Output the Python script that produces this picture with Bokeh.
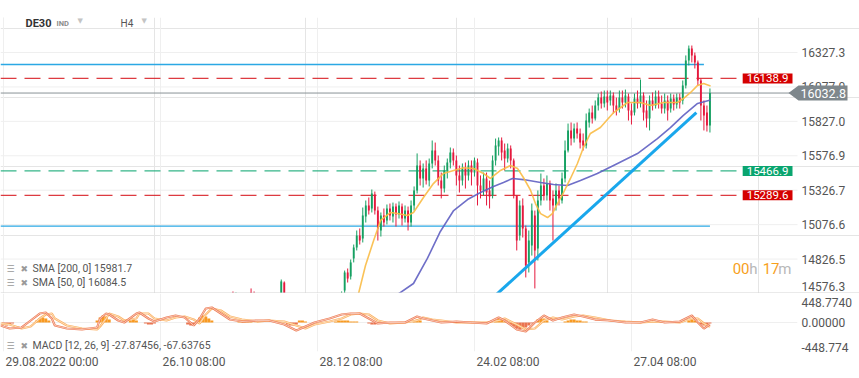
from bokeh.plotting import figure
from bokeh.layouts import column
from bokeh.models import Range1d, FixedTicker, Label, Span, ColumnDataSource, Grid, PolyAnnotation
from bokeh.embed import file_html
from bokeh.resources import INLINE

# ---------------- data ----------------
tick_bars = [0, 52, 104, 156, 208]
tick_labels = ["29.08.2022  00:00", "26.10  08:00", "28.12  08:00", "24.02  08:00", "27.04  08:00"]
price_ticks = [14576.3, 14826.5, 15076.6, 15326.7, 15576.9, 15827.0, 16077.0, 16327.3]
macd_ticks = [-448.774, 0.0, 448.774]
macd_tick_labels = ["-448.774", "0.00000", "448.7740"]

candle_bar = [76, 77, 82, 83, 92, 93, 112] + list(range(113, 235))
opens = [14554, 14533, 14584, 14569, 14554, 14656, 14540,
         14598, 14729, 14700, 14831, 14911, 14998, 14976, 15136, 15216, 15194,
         15296, 15179, 15034, 15143, 15107, 15194, 15136, 15208, 15150, 15208,
         15121, 15179, 15092, 15216, 15325, 15506, 15412, 15485, 15397, 15521,
         15615, 15543, 15397, 15339, 15470, 15528, 15601, 15543, 15434, 15397,
         15485, 15434, 15506, 15455, 15528, 15361, 15325, 15412, 15325, 15288,
         15543, 15644, 15688, 15615, 15557, 15630, 15543, 15288, 14998, 15216,
         15049, 14802, 14925, 15143, 14903, 15252, 15361, 15288, 15376, 15267,
         15216, 15325, 15252, 15412, 15615, 15761, 15702, 15775, 15739, 15688,
         15652, 15819, 15891, 15848, 15942, 16000, 15957, 16008, 15979, 16015,
         15942, 15920, 16000, 15964, 16008, 15906, 15891, 15993, 15957, 16015,
         15906, 15848, 15979, 15942, 16008, 15957, 15920, 15979, 15920, 15993,
         15950, 16000, 15979, 16088, 16269, 16356, 16306, 16255, 16124, 15942,
         15891, 15797]
highs = [14591, 14584, 14613, 14591, 14678, 14664, 14591,
         14743, 14758, 14823, 14932, 15034, 15049, 15201, 15252, 15274, 15332,
         15317, 15208, 15165, 15194, 15223, 15230, 15237, 15230, 15245, 15230,
         15216, 15208, 15252, 15354, 15594, 15543, 15521, 15543, 15557, 15688,
         15673, 15579, 15455, 15506, 15557, 15637, 15630, 15579, 15506, 15521,
         15528, 15543, 15543, 15564, 15557, 15434, 15455, 15455, 15397, 15579,
         15702, 15710, 15710, 15666, 15666, 15652, 15557, 15288, 15252, 15267,
         15070, 15034, 15230, 15179, 15325, 15448, 15412, 15434, 15397, 15325,
         15376, 15361, 15455, 15688, 15811, 15819, 15811, 15819, 15775, 15739,
         15884, 15920, 15942, 15979, 16029, 16044, 16051, 16051, 16051, 16037,
         16000, 16051, 16051, 16058, 16029, 15957, 16029, 16051, 16131, 16037,
         15979, 16015, 16037, 16051, 16051, 16015, 16029, 16015, 16029, 16022,
         16029, 16029, 16124, 16306, 16378, 16378, 16327, 16269, 16138, 15979,
         15942, 16066]
lows = [14511, 14504, 14525, 14511, 14525, 14547, 14525,
        14576, 14656, 14678, 14802, 14889, 14932, 14947, 15092, 15150, 15165,
        15150, 14961, 14990, 15063, 15078, 15107, 15092, 15063, 15121, 15070,
        15092, 15034, 15063, 15179, 15303, 15361, 15346, 15368, 15354, 15485,
        15506, 15361, 15267, 15310, 15412, 15485, 15506, 15361, 15310, 15361,
        15339, 15397, 15361, 15426, 15216, 15267, 15288, 15216, 15194, 15267,
        15506, 15579, 15543, 15470, 15528, 15485, 15267, 14889, 14961, 14983,
        14693, 14729, 14852, 14613, 14816, 15216, 15252, 15252, 15179, 14961,
        15179, 15216, 15230, 15383, 15601, 15652, 15673, 15702, 15630, 15615,
        15630, 15782, 15811, 15833, 15906, 15920, 15928, 15906, 15942, 15884,
        15870, 15891, 15920, 15928, 15833, 15804, 15870, 15920, 15928, 15833,
        15782, 15761, 15906, 15920, 15920, 15884, 15884, 15833, 15891, 15906,
        15920, 15920, 15950, 16066, 16233, 16255, 16211, 16088, 15833, 15761,
        15753, 15746]
closes = [14533, 14562, 14547, 14540, 14664, 14576, 14576,
          14729, 14685, 14802, 14911, 14998, 14961, 15143, 15216, 15179, 15303,
          15179, 15049, 15143, 15092, 15194, 15143, 15208, 15150, 15216, 15121,
          15179, 15092, 15216, 15325, 15506, 15412, 15485, 15397, 15521, 15615,
          15543, 15397, 15339, 15470, 15528, 15601, 15543, 15434, 15397, 15485,
          15434, 15506, 15455, 15543, 15361, 15325, 15412, 15310, 15281, 15543,
          15652, 15688, 15601, 15557, 15630, 15543, 15288, 14961, 15216, 15049,
          14780, 14961, 15179, 14889, 15252, 15361, 15288, 15376, 15252, 15216,
          15325, 15267, 15412, 15615, 15761, 15702, 15775, 15739, 15673, 15652,
          15833, 15891, 15848, 15942, 16000, 15957, 16008, 15964, 16015, 15942,
          15906, 16000, 15964, 16015, 15906, 15870, 15993, 15957, 16015, 15891,
          15848, 15979, 15942, 16008, 15957, 15920, 15979, 15906, 15993, 15950,
          16000, 15964, 16088, 16269, 16356, 16306, 16255, 16124, 15942, 15870,
          15797, 16033]

sma50_bar = [115.5, 117.6, 119.9, 122.6, 124.9, 128.2, 130.5, 133.8, 135.8, 139.1, 142.4, 145.7,
             149.1, 152.4, 155.7, 159.0, 161.3, 164.6, 167.9, 170.3, 172.2, 174.6, 176.2,
             177.9, 180.2, 181.8, 183.5, 185.5, 187.8, 190.1, 192.1, 194.4, 197.7, 202.1,
             206.7, 211.0, 214.3, 218.6, 223.2, 225.2, 227.6, 229.9, 231.9, 234.2]
sma50_val = [14430, 14576, 14780, 14961, 15107, 15165, 15157, 15143, 15165, 15274, 15375, 15448,
             15470, 15490, 15484, 15448, 15412, 15470, 15506, 15484, 15419, 15325, 15230,
             15157, 15128, 15157, 15230, 15310, 15412, 15521, 15637, 15739, 15782, 15891,
             15964, 15964, 15942, 15964, 15964, 15993, 16037, 16088, 16102, 16084.5]
sma200_bar = [127.0, 131.5, 135.8, 140.4, 144.7, 149.1, 153.7, 158.0, 162.3, 165.6, 168.6, 172.2,
              177.9, 182.2, 186.8, 191.1, 196.7, 203.4, 210.0, 216.6, 220.9, 225.2, 229.9, 234.2]
sma200_val = [14520, 14584, 14649, 14831, 15027, 15179, 15259, 15310, 15354, 15383, 15412, 15404,
              15383, 15368, 15361, 15397, 15448, 15521, 15593, 15702, 15782, 15870, 15957, 15981.7]

trend_bar = [160.0, 229.5]
trend_val = [14504, 15891]
hline_val = [16240, 15066]
hline_end = [232, 234]
alert_val = [16138.9, 15466.9, 15289.6]
alert_line_color = ["#d71920", "#12a874", "#d71920"]
alert_tag_color = ["#d50000", "#0aa56f", "#d50000"]
last_price = 16032.8

macd_bar = [-1, 2, 6, 9, 12, 14, 16, 17, 21, 26, 31, 32, 34, 35, 38, 40, 44, 45, 48, 50,
            54, 57, 60, 63, 65, 67, 69, 72, 75, 79, 84, 88, 93, 97, 100, 103, 108, 112, 115, 118,
            121, 124, 128, 133, 137, 139, 142, 145, 150, 155, 160, 164, 166, 170, 173, 176, 179,
            182, 185, 189, 192, 196, 201, 206, 211, 215, 219, 224, 228, 230, 232, 234]
macd_val = [-46, -93, -77, 31, 139, 155, 62, -46, -93, -108, -77, 62, 139, 124, 31, 0, 139, 155, 62, 15,
            77, 108, 77, -46, 62, 217, 232, 139, 46, 15, 31, 31, -31, -124, -62, 0, 62, 124, 139, 139,
            62, -15, 0, 0, 93, 62, 31, 0, 15, 0, -15, 77, 31, -108, -139, 0, 108, 31, 77, 124,
            93, 46, 31, 0, 0, 46, 0, 15, 108, 0, -93, -27.87]
signal_val = [-15, -31, -93, -62, 62, 124, 139, 62, -46, -93, -108, -62, 62, 139, 93, 31, 62, 139, 139, 62,
              31, 77, 93, 46, -15, 124, 217, 186, 93, 46, 15, 31, 15, -46, -93, -31, 15, 62, 124, 139,
              124, 31, -15, 0, 31, 77, 46, 31, 0, 0, 0, 31, 62, -31, -108, -93, 31, 77, 46, 93,
              108, 77, 31, 15, 0, 15, 15, 0, 62, 62, -15, -67.64]
hist_bar = [0, 1, 2, 3, 11, 12, 13, 14, 15, 31, 32, 33, 34, 35, 42, 43, 44, 47, 48, 49, 50,
            61, 62, 63, 64, 65, 66, 67, 68, 69, 78, 79, 80, 81, 82, 94, 95, 96, 97, 98, 99, 100,
            110, 111, 112, 113, 114, 115, 116, 117, 121, 122, 123, 124, 136, 137, 138,
            163, 164, 165, 166, 168, 169, 170, 171, 172, 173, 174, 175, 177, 178, 179, 180,
            186, 187, 188, 189, 190, 191, 192, 193, 227, 228, 229, 231, 232, 233, 234]
hist_val = [-31, -46, -31, -15, 31, 62, 77, 62, 31, 31, 77, 108, 93, 46, 31, 46, 31, -15, -31, -31, -15,
            -31, -46, -31, 31, 77, 108, 93, 62, 31, 15, 31, 31, 15, 15, -31, -46, -46, -31, 31, 31, 15,
            15, 31, 31, 31, 31, 15, 15, 15, -15, -31, -31, -15, 31, 46, 31,
            31, 62, 46, 15, -31, -62, -93, -108, -93, -77, -46, -15, 46, 62, 62, 31,
            15, 31, 46, 46, 31, 31, 15, 15, 31, 46, 31, -31, -46, -31, -15]

sma_legend = ["SMA [200,  0] 15981.7", "SMA [50,  0] 16084.5"]
macd_legend = "MACD [12, 26, 9] -27.87456,  -67.63765"

# ---------------- styles ----------------
FONT = "Roboto"
UP, DOWN = "#16a062", "#e5193d"
TXT = "#555555"
GRID = "#efefef"
W = 859
FW, PH, MH = 797, 276, 58
X0, X1 = -1, 263                      # bars across the plotting area (0..797 px)
XW = X0 + W * (X1 - X0) / FW          # bars across the full width (0..859 px)
P0, P1 = 14576.3, 16581.6
M0, M1 = -448.774, 448.774
ppx = (P1 - P0) / PH
mpx = (M1 - M0) / MH
bpx = (X1 - X0) / FW


def lab(fig, x, y, xo, yo, text, size, color, style="normal", font=FONT, align="left", **kw):
    fig.add_layout(Label(x=x, y=y, x_offset=xo, y_offset=yo, text=text, text_font=font,
                         text_font_size=size, text_color=color, text_font_style=style,
                         text_baseline="middle", text_align=align, **kw))


# ---------------- price panel (frame spans full width, price scale drawn at right) ----------------
p = figure(frame_width=W, frame_height=PH, x_range=Range1d(X0, XW), y_range=Range1d(P0, P1),
           output_backend="svg", toolbar_location=None, x_axis_location=None,
           y_axis_location=None, min_border_left=0, min_border_right=0,
           min_border_top=17, min_border_bottom=0, outline_line_color=None,
           background_fill_color="white", border_fill_color="white")
p.add_layout(Grid(dimension=0, ticker=FixedTicker(ticks=tick_bars), grid_line_color=GRID))
p.segment(x0=[X0] * len(price_ticks), y0=price_ticks, x1=[X1] * len(price_ticks), y1=price_ticks,
          line_color=GRID, line_width=1)
label_pos = [price_ticks[0] + 7 * ppx] + price_ticks[1:]
for v, t in zip(label_pos, price_ticks):
    lab(p, X1, v, 4, 0, "%.1f" % t, "12px", TXT)

# horizontal lines
p.segment(x0=[X0] * len(hline_val), y0=hline_val, x1=hline_end, y1=hline_val,
          line_color="#2ba8e4", line_width=1.3)
p.segment(x0=[X0] * 3, y0=alert_val, x1=[X1 - 18] * 3, y1=alert_val,
          line_color=alert_line_color, line_width=1.3, line_dash="16 8", line_alpha=0.85)
p.segment(x0=[X0], y0=[last_price], x1=[X1], y1=[last_price], line_color="#8a9297", line_width=1)

# candles
src = ColumnDataSource(dict(
    x=candle_bar, h=highs, l=lows,
    top=[max(o, c) for o, c in zip(opens, closes)],
    bot=[min(o, c) for o, c in zip(opens, closes)],
    color=[UP if c >= o else DOWN for o, c in zip(opens, closes)]))
p.segment(x0="x", y0="l", x1="x", y1="h", line_color="color", line_width=1, source=src)
p.vbar(x="x", width=0.62, top="top", bottom="bot", fill_color="color", line_color=None, source=src)

# moving averages and trend line
p.line(sma200_bar, sma200_val, line_color="#5f5fc2", line_width=1.6, line_alpha=0.9)
p.line(sma50_bar, sma50_val, line_color="#f9bb45", line_width=1.6, line_alpha=0.9)
p.line(trend_bar, trend_val, line_color="#19a7ec", line_width=3)

# price tags
for v, c in zip(alert_val, alert_tag_color):
    lab(p, X1, v, -5, 0, "%.1f" % v, "11.5px", "white", align="right",
        background_fill_color=c, padding=dict(left=4, right=4, top=1, bottom=1))
# last-price tag: arrow-shaped grey box with white text
half = 7.5 * ppx
p.add_layout(PolyAnnotation(
    xs=[X1 - 9 * bpx, X1 + 1 * bpx, X1 + 50 * bpx, X1 + 50 * bpx, X1 + 1 * bpx],
    ys=[last_price, last_price + half, last_price + half, last_price - half, last_price - half],
    fill_color="#7e878c", fill_alpha=1, line_color=None))
lab(p, X1, last_price, 3, 0, "%.1f" % last_price, "12.5px", "white")
p.add_layout(Span(location=P0, dimension="width", line_color="#d5d5d5", line_width=2))

# header
lab(p, X0, P1, 25, -6, "DE30", "11px", "#333333", "bold")
lab(p, X0, P1, 56, -6, "IND", "7.5px", "#8c8c8c", "bold")
lab(p, X0, P1, 77, -3, "\u25bc", "7px", "#c4c4c4", font="DejaVu Sans")
lab(p, X0, P1, 120, -6, "H4", "10px", "#555555")
lab(p, X0, P1, 141, -3, "\u25bc", "7px", "#c4c4c4", font="DejaVu Sans")

# legends
for i, t in enumerate(sma_legend):
    yo = 25 - 14 * i
    lab(p, X0, P0, 6, yo, "\u2630", "9px", "#9a9a9a", font="DejaVu Sans")
    lab(p, X0, P0, 20, yo, "\u2716", "9px", "#9a9a9a", font="DejaVu Sans")
    lab(p, X0, P0, 32, yo, t, "10.5px", TXT)

# countdown
for t, xo, c in [("m", -6, "#b8b8b8"), ("17", -18, "#f7a01c"), ("h", -40, "#b8b8b8"), ("00", -48, "#f7a01c")]:
    lab(p, X1, P0, xo, 25, t, "15px", c, align="right")

# ---------------- MACD panel ----------------
q = figure(frame_width=FW, frame_height=MH, x_range=Range1d(X0, X1), y_range=Range1d(M0, M1),
           output_backend="svg", toolbar_location=None, x_axis_location="below",
           y_axis_location="right", min_border_left=0, min_border_right=W - FW,
           min_border_top=0, min_border_bottom=27, outline_line_color=None,
           background_fill_color="white", border_fill_color="white")
q.xgrid.ticker = FixedTicker(ticks=tick_bars)
q.xgrid.grid_line_color = GRID
q.ygrid.ticker = FixedTicker(ticks=[macd_ticks[0], macd_ticks[1]])
q.ygrid.grid_line_color = GRID
mlabel_pos = [macd_ticks[0] + 4 * mpx, macd_ticks[1], macd_ticks[2] - 8.5 * mpx]
q.yaxis.ticker = FixedTicker(ticks=mlabel_pos)
q.yaxis.major_label_overrides = {v: t for v, t in zip(mlabel_pos, macd_tick_labels)}
# date labels sit to the right of their grid line: centre each label half its width further on
label_half_px = [49, 34, 34, 34, 34]
xlabel_pos = [b + (hw + 1) * bpx for b, hw in zip(tick_bars, label_half_px)]
q.xaxis.ticker = FixedTicker(ticks=xlabel_pos)
q.xaxis.major_label_overrides = {v: t for v, t in zip(xlabel_pos, tick_labels)}
for ax in list(q.yaxis) + list(q.xaxis):
    ax.axis_line_color = None
    ax.major_tick_line_color = None
    ax.minor_tick_line_color = None
    ax.major_tick_out = 0
    ax.major_label_text_font = FONT
    ax.major_label_text_font_size = "12px"
    ax.major_label_text_color = TXT
    ax.major_label_standoff = 4
q.xaxis.major_label_standoff = 3

hsrc = ColumnDataSource(dict(x=hist_bar, v=hist_val,
                             color=["#f89a22" if v > 0 else "#ea7450" for v in hist_val]))
q.vbar(x="x", width=1.0, top="v", bottom=0, fill_color="color", line_color=None, source=hsrc)
q.line(macd_bar, signal_val, line_color="#fbb161", line_width=2.2)
q.line(macd_bar, signal_val, line_color="white", line_width=0.7, line_alpha=0.8)
q.line(macd_bar, macd_val, line_color="#ee7c55", line_width=2.2)
q.line(macd_bar, macd_val, line_color="white", line_width=0.7, line_alpha=0.8)

lab(q, X0, M0, 6, 6, "\u2630", "9px", "#9a9a9a", font="DejaVu Sans")
lab(q, X0, M0, 20, 6, "\u2716", "9px", "#9a9a9a", font="DejaVu Sans")
lab(q, X0, M0, 32, 6, macd_legend, "10.5px", TXT)

layout = column(p, q)
open("out.html", "w").write(file_html(layout, INLINE))
